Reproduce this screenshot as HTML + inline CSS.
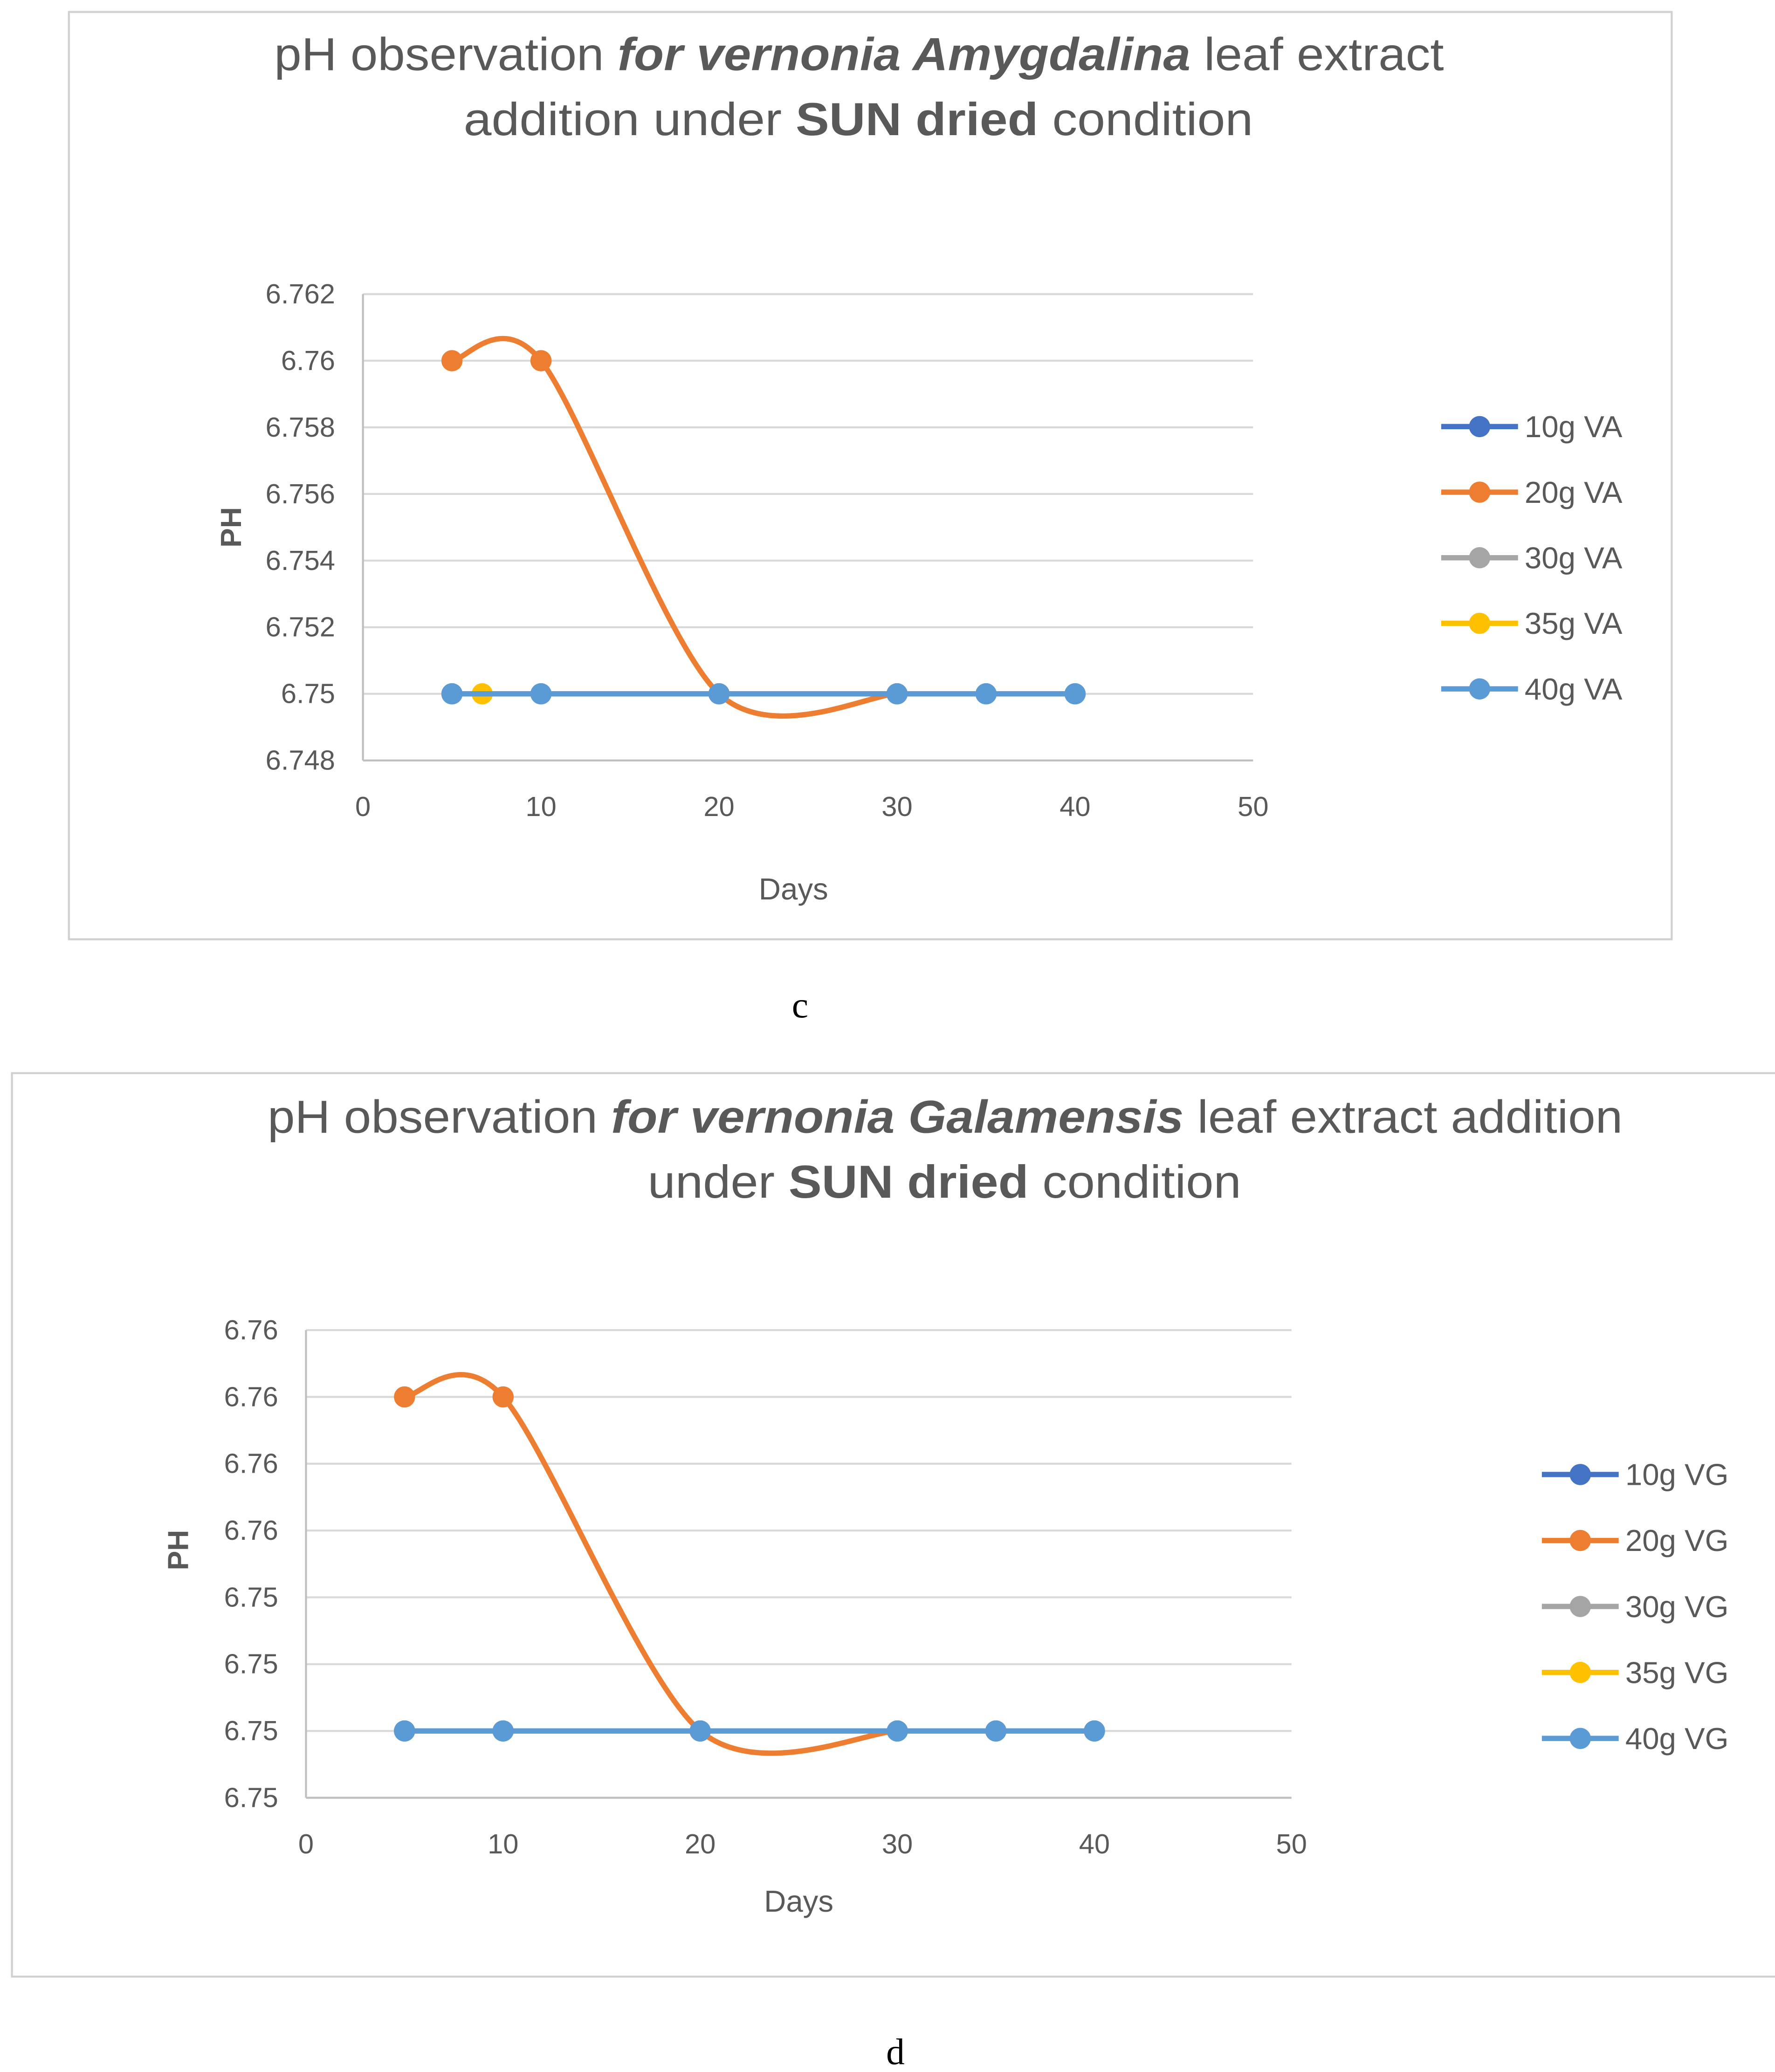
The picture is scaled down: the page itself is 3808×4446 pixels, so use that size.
<!DOCTYPE html>
<html><head><meta charset="utf-8">
<style>
html,body{margin:0;padding:0;background:#fff;}
svg{display:block;}
text{font-family:"Liberation Sans",sans-serif;fill:#595959;}
</style></head>
<body>
<svg id="root" width="3808" height="4446" viewBox="0 0 1340 1564" preserveAspectRatio="none" xmlns="http://www.w3.org/2000/svg">
<rect x="0" y="0" width="1340" height="1564" fill="#fff"/>
<g>
<rect x="52" y="9" width="1210" height="700" fill="none" stroke="#d0d0d0" stroke-width="1.5"/>
<text x="207" y="53" font-size="35" textLength="883" lengthAdjust="spacingAndGlyphs">pH observation <tspan font-weight="bold" font-style="italic">for vernonia Amygdalina</tspan> leaf extract</text>
<text x="350" y="102" font-size="35" textLength="596" lengthAdjust="spacingAndGlyphs">addition under <tspan font-weight="bold">SUN dried</tspan> condition</text>
<g id="plotC"></g>
<text x="604" y="768" font-size="28" text-anchor="middle" style="font-family:'Liberation Serif',serif;fill:#000">c</text>
</g>
<g>
<rect x="9" y="810" width="1332" height="682" fill="none" stroke="#d0d0d0" stroke-width="1.5"/>
<text x="202" y="855" font-size="35" textLength="1023" lengthAdjust="spacingAndGlyphs">pH observation <tspan font-weight="bold" font-style="italic">for vernonia Galamensis</tspan> leaf extract addition</text>
<text x="489" y="904" font-size="35" textLength="448" lengthAdjust="spacingAndGlyphs">under <tspan font-weight="bold">SUN dried</tspan> condition</text>
<g id="plotD"></g>
<text x="676" y="1558" font-size="28" text-anchor="middle" style="font-family:'Liberation Serif',serif;fill:#000">d</text>
</g>
</svg>
<script>
const NS="http://www.w3.org/2000/svg";
const xTicks=[0,10,20,30,40,50];
const yTicksC=[6.748,6.75,6.752,6.754,6.756,6.758,6.76,6.762];
const yLabelsC=["6.748","6.75","6.752","6.754","6.756","6.758","6.76","6.762"];
const yLabelsD=["6.75","6.75","6.75","6.75","6.76","6.76","6.76","6.76"];
const seriesColors=["#4472C4","#ED7D31","#A5A5A5","#FFC000","#5B9BD5"];
const namesC=["10g VA","20g VA","30g VA","35g VA","40g VA"];
const namesD=["10g VG","20g VG","30g VG","35g VG","40g VG"];
const x10=[5,10,20,30,35,40]; const y10=[6.75,6.75,6.75,6.75,6.75,6.75];
const x20=[5,10,20,30]; const y20=[6.76,6.76,6.75,6.75];
const x30=[5,10,20,30,35,40]; const y30=[6.75,6.75,6.75,6.75,6.75,6.75];
const x35=[6.7]; const y35=[6.75];
const x40=[5,10,20,30,35,40]; const y40=[6.75,6.75,6.75,6.75,6.75,6.75];
const x35d=[]; const y35d=[];

function el(tag,attrs,parent){const e=document.createElementNS(NS,tag);for(const k in attrs)e.setAttribute(k,attrs[k]);parent.appendChild(e);return e;}
function smoothPath(px,py){
  if(px.length<2)return "";
  let d="M"+px[0]+","+py[0];
  const t=0.3;
  for(let i=0;i<px.length-1;i++){
    const p0x=px[Math.max(i-1,0)],p0y=py[Math.max(i-1,0)];
    const p3x=px[Math.min(i+2,px.length-1)],p3y=py[Math.min(i+2,py.length-1)];
    const c1x=px[i]+(px[i+1]-p0x)*t/2,c1y=py[i]+(py[i+1]-p0y)*t/2;
    const c2x=px[i+1]-(p3x-px[i])*t/2,c2y=py[i+1]-(p3y-py[i])*t/2;
    d+=" C"+c1x+","+c1y+" "+c2x+","+c2y+" "+px[i+1]+","+py[i+1];
  }
  return d;
}
function drawChart(g,cfg,names,yLabels,data){
  const X=v=>cfg.x0+(v-0)/50*(cfg.x1-cfg.x0);
  const Y=v=>cfg.yb+(v-6.748)/(6.762-6.748)*(cfg.yt-cfg.yb);
  yTicksC.forEach((v,i)=>{
    const l=el("line",{x1:X(0),x2:X(50),y1:Y(v),y2:Y(v),stroke:i===0?"#bfbfbf":"#d9d9d9","stroke-width":1.5},g);
    
    
    const t=el("text",{x:X(0)-21,y:Y(v)+7,"font-size":21,"text-anchor":"end"},g);t.textContent=yLabels[i];
    
    
  });
  const ax=el("line",{x1:X(0),x2:X(0),y1:Y(6.762),y2:Y(6.748),stroke:"#bfbfbf","stroke-width":1.5},g);
  
  
  xTicks.forEach(v=>{
    const t=el("text",{x:X(v),y:Y(6.748)+42,"font-size":21,"text-anchor":"middle"},g);t.textContent=v;
    
    
  });
  const xt=el("text",{x:cfg.daysX,y:cfg.daysY,"font-size":23,"text-anchor":"middle"},g);xt.textContent="Days";
  
  
  const yt=el("text",{x:0,y:0,"font-size":22,"font-weight":"bold","text-anchor":"middle",transform:"translate("+cfg.phX+","+cfg.phY+") rotate(-90)"},g);yt.textContent="PH";
  
  
  data.forEach((s,si)=>{
    const px=s[0].map(X),py=s[1].map(Y);
    const sg=el("g",{},g);
    
    
    if(px.length>1){
      const p=el("path",{d:smoothPath(px,py),fill:"none",stroke:seriesColors[si],"stroke-width":4},sg);
      
      
    }
    px.forEach((x,i)=>{
      const c=el("circle",{cx:x,cy:py[i],r:8,fill:seriesColors[si]},sg);
      
      
    });
  });
  names.forEach((n,i)=>{
    const lg=el("g",{},g);
    
    
    const ly=cfg.legY+i*cfg.legStep;
    el("line",{x1:cfg.legX,x2:cfg.legX+58,y1:ly,y2:ly,stroke:seriesColors[i],"stroke-width":4},lg);
    el("circle",{cx:cfg.legX+29,cy:ly,r:8,fill:seriesColors[i]},lg);
    const t=el("text",{x:cfg.legX+63,y:ly+8,"font-size":23},lg);t.textContent=n;
  });
}
drawChart(document.getElementById("plotC"),{x0:274,x1:946,yt:222,yb:574,daysX:599,daysY:679,phX:182,phY:398,legX:1088,legY:322,legStep:49.5},namesC,yLabelsC,
  [[x10,y10],[x20,y20],[x30,y30],[x35,y35],[x40,y40]]);
drawChart(document.getElementById("plotD"),{x0:231,x1:975,yt:1004,yb:1357,daysX:603,daysY:1443,phX:142,phY:1170,legX:1164,legY:1113,legStep:49.8},namesD,yLabelsD,
  [[x10,y10],[x20,y20],[x30,y30],[x35d,y35d],[x40,y40]]);
</script>
</body></html>
